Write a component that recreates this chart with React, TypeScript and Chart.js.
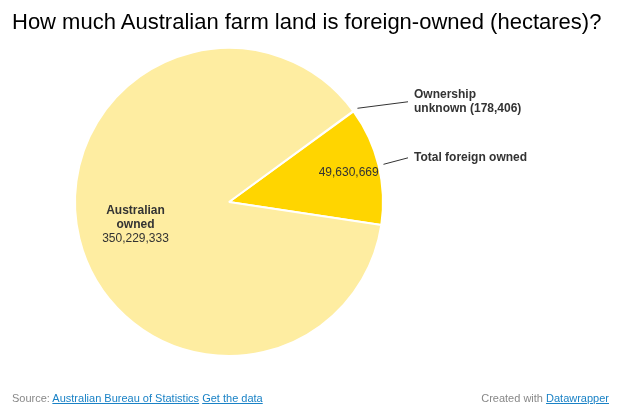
import React, { useEffect, useRef } from "react";
import { Chart, registerables } from "chart.js";

Chart.register(...registerables);

const categories = ["Ownership unknown", "Total foreign owned", "Australian owned"];
const hectares = [178406, 49630669, 350229333];
const sliceColors = ["#FFD500", "#FFD500", "#FEEDA1"];

const FONT = "'Liberation Sans', Arial, sans-serif";
const fmt = (v: number) => v.toLocaleString("en-US");

// label styling per slice (index-aligned with categories)
const labelStyle = [
  { kind: "outside", lines: ["Ownership", "unknown (" + fmt(hectares[0]) + ")"] },
  { kind: "both", inside: [fmt(hectares[1])], rf: 0.8, lines: ["Total foreign owned"] },
  { kind: "inside", bold: ["Australian", "owned"], inside: [fmt(hectares[2])], rf: 0.625 },
];

const labelPlugin = {
  id: "pieLabels",
  afterDatasetsDraw(chart: any) {
    const ctx = chart.ctx as CanvasRenderingContext2D;
    const meta = chart.getDatasetMeta(0);
    ctx.save();
    ctx.fillStyle = "#333";
    ctx.strokeStyle = "#333";
    ctx.textBaseline = "middle";
    meta.data.forEach((arc: any, i: number) => {
      const p = arc.getProps(["x", "y", "startAngle", "endAngle", "outerRadius"], true);
      const mid = (p.startAngle + p.endAngle) / 2;
      const st: any = labelStyle[i];
      const lh = 14;
      if (st.kind === "inside" || st.kind === "both") {
        const r = p.outerRadius * st.rf;
        const lx = p.x + Math.cos(mid) * r;
        const ly = p.y + Math.sin(mid) * r;
        const bold: string[] = st.bold || [];
        const all = [...bold.map((t) => ({ t, b: true })), ...st.inside.map((t: string) => ({ t, b: false }))];
        const top = ly - ((all.length - 1) * lh) / 2;
        ctx.textAlign = "center";
        all.forEach((l, k) => {
          ctx.font = (l.b ? "bold " : "") + "12px " + FONT;
          ctx.fillText(l.t, lx, top + k * lh);
        });
      }
      if (st.kind === "outside" || st.kind === "both") {
        const r0 = p.outerRadius + 5;
        const sx = p.x + Math.cos(mid) * r0;
        const sy = p.y + Math.sin(mid) * r0;
        const ex = p.x + p.outerRadius + 25;
        const ey = sy - 6.5;
        ctx.lineWidth = 1;
        ctx.beginPath();
        ctx.moveTo(sx, sy);
        ctx.lineTo(ex, ey);
        ctx.stroke();
        ctx.textAlign = "left";
        ctx.font = "bold 12px " + FONT;
        const lines: string[] = st.lines;
        const top = ey - ((lines.length - 1) * lh) / 2;
        lines.forEach((t, k) => ctx.fillText(t, ex + 6, top + k * lh));
      }
    });
    ctx.restore();
  },
};

export default function App() {
  const ref = useRef<HTMLCanvasElement | null>(null);
  useEffect(() => {
    if (!ref.current) return;
    const chart = new Chart(ref.current, {
      type: "pie",
      data: {
        labels: categories,
        datasets: [
          {
            data: hectares,
            backgroundColor: sliceColors,
            borderColor: "#ffffff",
            borderWidth: 2,
          },
        ],
      },
      options: {
        responsive: false,
        animation: false,
        events: [],
        rotation: 53.8,
        radius: 154,
        layout: { padding: { left: 75, right: 242, top: 48, bottom: 55 } },
        plugins: { legend: { display: false }, tooltip: { enabled: false }, title: { display: false } },
      },
      plugins: [labelPlugin],
    } as any);
    return () => chart.destroy();
  }, []);

  const link: React.CSSProperties = { color: "#1a82c6", textDecoration: "underline" };
  return (
    <div style={{ position: "absolute", left: 0, top: 0, width: 625, height: 411, background: "#fff", fontFamily: FONT }}>
      <canvas ref={ref} width={625} height={411} style={{ position: "absolute", left: 0, top: 0 }} />
      <div style={{ position: "absolute", left: 12, top: 10.5, fontSize: 22, lineHeight: "22px", color: "#000", whiteSpace: "nowrap" }}>
        How much Australian farm land is foreign-owned (hectares)?
      </div>
      <div style={{ position: "absolute", left: 12, top: 393, fontSize: 11, lineHeight: "11px", color: "#888", whiteSpace: "nowrap" }}>
        Source: <a style={link}>Australian Bureau of Statistics</a> <a style={link}>Get the data</a>
      </div>
      <div style={{ position: "absolute", right: 16, top: 393, fontSize: 11, lineHeight: "11px", color: "#888", whiteSpace: "nowrap" }}>
        Created with <a style={link}>Datawrapper</a>
      </div>
    </div>
  );
}
